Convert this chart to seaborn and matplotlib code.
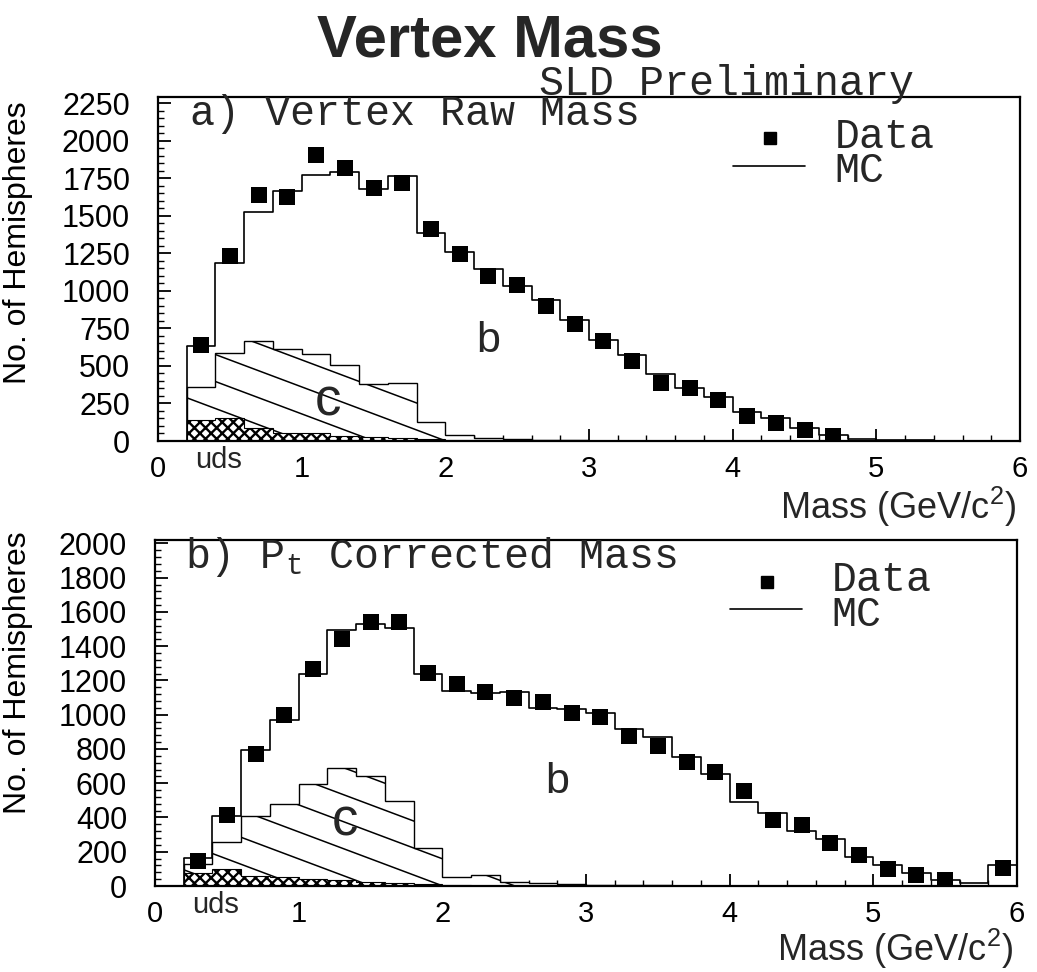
import numpy as np
import pandas as pd
import matplotlib
matplotlib.use("Agg")
import matplotlib.pyplot as plt
import seaborn as sns
from matplotlib.collections import LineCollection
from matplotlib.ticker import MultipleLocator, FixedLocator, FixedFormatter

# ---------------- data ----------------
bin_edges = [round(0.2 + 0.2 * i, 1) for i in range(30)]          # 29 bins, width 0.2
bin_centers = [round(e + 0.1, 1) for e in bin_edges[:-1]]
nan = np.nan

# a) Vertex Raw Mass
raw_data = [638, 1230, 1638, 1622, 1902, 1815, 1684, 1719, 1413, 1244, 1101, 1040, 902, 779,
            663, 535, 388, 350, 276, 164, 123, 75, 32, nan, nan, nan, nan, nan, nan]
raw_mc = [630, 1185, 1527, 1665, 1769, 1792, 1680, 1763, 1386, 1259, 1146, 1030, 937, 806,
          674, 575, 444, 356, 292, 193, 150, 85, 43, 11, 8, 5, 2, 2, 2]
raw_c_uds = [360, 584, 668, 610, 580, 504, 381, 383, 129, 42, 22, 12, 5, 5,
             3, 2, 0, 0, 0, 0, 0, 0, 0, 0, 0, 0, 0, 0, 0]
raw_uds = [137, 155, 85, 53, 55, 35, 25, 20, 10, 5, 5, 0, 0, 0,
           0, 0, 0, 0, 0, 0, 0, 0, 0, 0, 0, 0, 0, 0, 0]

# b) Pt Corrected Mass
cor_data = [148, 417, 769, 997, 1268, 1444, 1543, 1540, 1243, 1181, 1130, 1096, 1073, 1011,
            989, 873, 817, 725, 668, 552, 385, 357, 253, 179, 98, 64, 37, nan, 104]
cor_mc = [165, 411, 792, 968, 1238, 1496, 1532, 1505, 1237, 1140, 1124, 1131, 1037, 1033,
          1011, 914, 868, 752, 656, 489, 426, 320, 273, 167, 120, 76, 35, 17, 120]
cor_c_uds = [126, 254, 411, 480, 598, 687, 640, 496, 224, 52, 63, 25, 20, 10,
             5, 5, 3, 2, 0, 0, 0, 0, 0, 0, 0, 0, 0, 0, 0]
cor_uds = [78, 102, 61, 52, 42, 34, 25, 20, 10, 5, 0, 0, 0, 0,
           0, 0, 0, 0, 0, 0, 0, 0, 0, 0, 0, 0, 0, 0, 0]

x_ticks = [0, 1, 2, 3, 4, 5, 6]
x_ticklabels = ["0", "1", "2", "3", "4", "5", "6"]
raw_yticks = [0, 250, 500, 750, 1000, 1250, 1500, 1750, 2000, 2250]
cor_yticks = [0, 200, 400, 600, 800, 1000, 1200, 1400, 1600, 1800, 2000]

# ---------------- style ----------------
sns.set_theme(style="white")
plt.rcParams["font.family"] = ["Liberation Sans", "DejaVu Sans"]
plt.rcParams["mathtext.fontset"] = "custom"
plt.rcParams["mathtext.rm"] = "Liberation Mono"
plt.rcParams["mathtext.sf"] = "Liberation Sans"
plt.rcParams["hatch.linewidth"] = 1.7
plt.rcParams["axes.edgecolor"] = "black"

MONO = "Liberation Mono"
W_PX, H_PX = 1037, 972
fig = plt.figure(figsize=(W_PX / 100, H_PX / 100), dpi=100)
fig.patch.set_facecolor("white")

ax_top = fig.add_axes([158 / W_PX, 1 - 441 / H_PX, 862 / W_PX, 344 / H_PX])
ax_bot = fig.add_axes([155 / W_PX, 1 - 886 / H_PX, 862 / W_PX, 346 / H_PX])


def draw_panel(ax, data, mc, c_uds, uds, yticks, ymax, yminor, mass_y):
    df = pd.DataFrame({"mass": bin_centers, "data": data, "mc": mc})

    # c (+uds) region, hatched with shallow diagonal lines
    cpatch = ax.stairs(c_uds, bin_edges, baseline=0, fill=True, facecolor="white",
                       edgecolor="black", linewidth=1.0, zorder=1.5)
    W = ax.bbox.width
    H = ax.bbox.height
    slope = 0.375 * W / H
    spacing = 27.0 / H
    segs = [[(0, b), (1, b - slope)] for b in np.arange(0.0, 1 + slope + spacing, spacing)]
    lc = LineCollection(segs, colors="black", linewidths=1.1, transform=ax.transAxes,
                        zorder=1.6)
    ax.add_collection(lc, autolim=False)
    lc.set_clip_path(cpatch)

    # uds region, cross-hatched
    ax.stairs(uds, bin_edges, baseline=0, fill=True, facecolor="white",
              edgecolor="black", hatch="xxx", linewidth=0.8, zorder=2)

    # MC total
    sns.histplot(data=df, x="mass", weights="mc", bins=bin_edges, element="step",
                 fill=False, color="black", linewidth=1.2, ax=ax, zorder=3)
    # left edge of the MC histogram down to zero
    ax.vlines(bin_edges[0], 0, mc[0], color="black", linewidth=1.2, zorder=3)
    # Data
    sns.scatterplot(data=df, x="mass", y="data", marker="s", s=125, color="black",
                    edgecolor="black", linewidth=0, ax=ax, zorder=4, legend=False)

    ax.set_xlim(0, 6)
    ax.set_ylim(0, ymax)
    ax.xaxis.set_major_locator(FixedLocator(x_ticks))
    ax.xaxis.set_major_formatter(FixedFormatter(x_ticklabels))
    ax.xaxis.set_minor_locator(MultipleLocator(0.2))
    ax.yaxis.set_major_locator(FixedLocator(yticks))
    ax.yaxis.set_major_formatter(FixedFormatter([str(v) for v in yticks]))
    ax.yaxis.set_minor_locator(MultipleLocator(yminor))
    ax.tick_params(which="both", direction="in", top=False, right=False,
                   bottom=True, left=True, colors="black")
    ax.tick_params(axis="y", labelsize=22, pad=20)
    ax.tick_params(axis="x", labelsize=21, pad=10)
    ax.tick_params(which="major", length=9, width=1.3)
    ax.tick_params(which="minor", length=4.5, width=1.0)
    for sp in ax.spines.values():
        sp.set_visible(True)
        sp.set_linewidth(1.6)
        sp.set_color("black")
    ax.set_xlabel("")
    ax.set_ylabel("No. of Hemispheres", fontsize=23, color="black")
    ax.grid(False)
    ax.set_facecolor("white")

    # legend glyphs
    ax.plot([0.710], [0.880], marker="s", markersize=9, color="black", linestyle="none",
            transform=ax.transAxes, clip_on=False)
    ax.plot([0.667, 0.751], [0.800, 0.800], color="black", linewidth=1.2,
            transform=ax.transAxes, clip_on=False)
    ax.text(0.785, 0.884, "Data", fontsize=30, family=MONO, va="center", ha="left",
            transform=ax.transAxes)
    ax.text(0.785, 0.784, "MC", fontsize=30, family=MONO, va="center", ha="left",
            transform=ax.transAxes)

    # "uds" under the axis, and axis title at the lower right
    ax.text(0.42, -0.078, "uds", fontsize=21, ha="center", va="baseline",
            transform=ax.get_xaxis_transform())
    ax.text(0.995, mass_y, "Mass (GeV/c$^{\\mathsf{2}}$)",
            fontsize=26, ha="right", va="baseline", transform=ax.transAxes)


draw_panel(ax_top, raw_data, raw_mc, raw_c_uds, raw_uds, raw_yticks, 2290, 50, -0.228)
draw_panel(ax_bot, cor_data, cor_mc, cor_c_uds, cor_uds, cor_yticks, 2020, 40, -0.218)

ax_top.yaxis.set_label_coords(-0.145, 0.576)
ax_bot.yaxis.set_label_coords(-0.142, 0.616)

# panel captions
ax_top.text(0.037, 0.919, "a) Vertex Raw Mass", fontsize=30, family=MONO,
            ha="left", va="baseline", transform=ax_top.transAxes)
ax_bot.text(0.035, 0.919, "b) $\\mathrm{P}_{\\mathrm{t}}$ Corrected Mass", fontsize=30,
            family=MONO, ha="left", va="baseline", transform=ax_bot.transAxes)

# region labels
ax_top.text(2.30, 664, "b", fontsize=31, ha="center", va="center", zorder=5)
ax_top.text(1.18, 260, "c", fontsize=38, ha="center", va="center", zorder=5)
ax_bot.text(2.80, 606, "b", fontsize=31, ha="center", va="center", zorder=5)
ax_bot.text(1.32, 377, "c", fontsize=38, ha="center", va="center", zorder=5)

# header texts
ax_top.text(0.660, 1.006, "SLD Preliminary", fontsize=30, family=MONO,
            ha="center", va="baseline", transform=ax_top.transAxes)
fig.text(0.472, 0.958, "Vertex Mass", fontsize=43, fontweight="bold",
         ha="center", va="center")

fig.savefig("out.png", dpi=100, facecolor="white")
